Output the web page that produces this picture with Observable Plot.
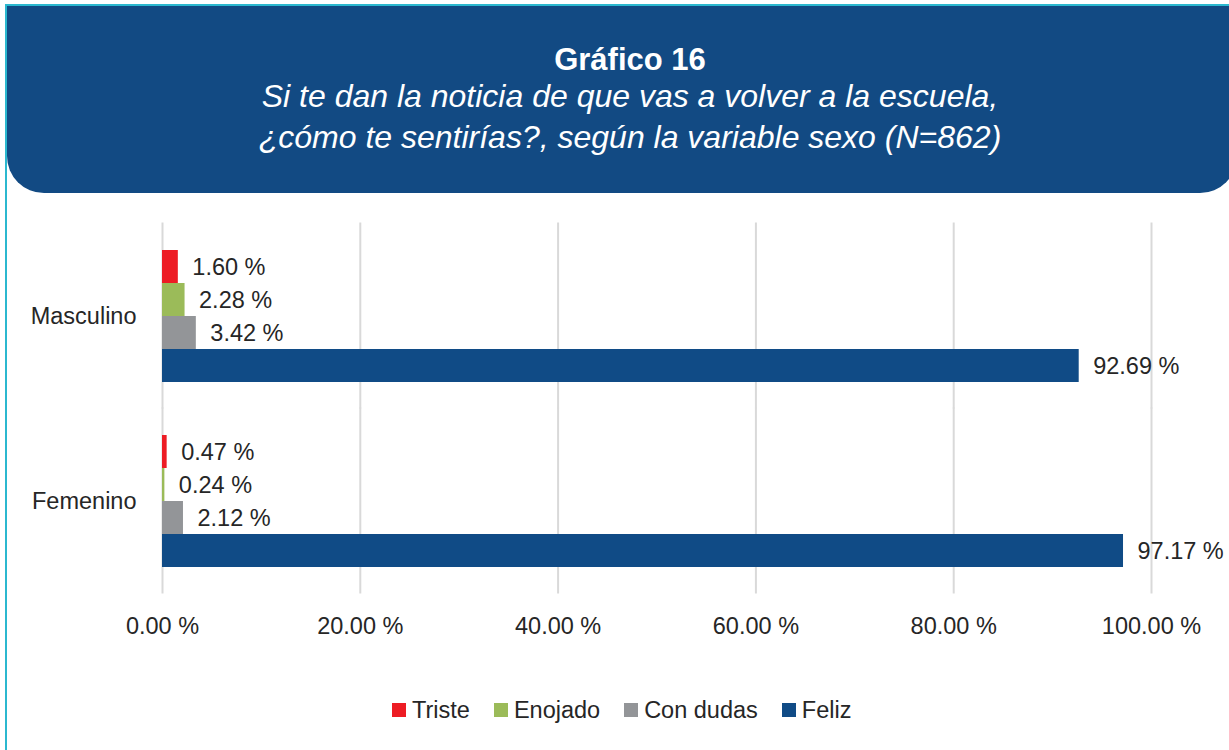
<!DOCTYPE html>
<html>
<head>
<meta charset="utf-8">
<script src="https://cdn.jsdelivr.net/npm/d3@7"></script>
<script src="https://cdn.jsdelivr.net/npm/@observablehq/plot@0.6"></script>
<style>
  html, body { margin: 0; padding: 0; background: #fff; }
  body { width: 1229px; height: 750px; position: relative; overflow: hidden; font-family: "Liberation Sans", Arial, sans-serif; }
  .frame-top { position: absolute; left: 5px; top: 4px; width: 1224px; height: 2px; background: #2bb8cf; }
  .frame-left { position: absolute; left: 5px; top: 4px; width: 2px; height: 746px; background: #2bb8cf; }
  .header { position: absolute; left: 7px; top: 6px; width: 1230px; height: 187px; background: #124a83; border-bottom-left-radius: 37px; border-bottom-right-radius: 37px; }
  .title { position: absolute; left: 0; width: 1260px; top: 42px; text-align: center; color: #fff; font-weight: bold; font-size: 31px; line-height: 36px; }
  .subtitle { position: absolute; left: 0; width: 1260px; top: 76px; text-align: center; color: #fff; font-style: italic; font-size: 32px; line-height: 41px; }
  #chart { position: absolute; left: 0; top: 200px; }
  .legend { position: absolute; left: 392px; top: 696px; display: flex; align-items: center; font-size: 23.5px; line-height: 28px; color: #262626; }
  .legend .item { display: flex; align-items: center; margin-right: 24px; }
  .legend .sw { width: 14px; height: 14px; margin-right: 6px; }
</style>
</head>
<body>
<div class="frame-top"></div>
<div class="frame-left"></div>
<div class="header"></div>
<div class="title">Gráfico 16</div>
<div class="subtitle">Si te dan la noticia de que vas a volver a la escuela,<br>¿cómo te sentirías?, según la variable sexo (N=862)</div>
<div id="chart"></div>
<div class="legend" id="legend"></div>
<script>
const sexos = ["Masculino", "Femenino"];
const emociones = ["Triste", "Enojado", "Con dudas", "Feliz"];
const colores = ["#ed1c24", "#9bbb59", "#939598", "#104b86"];
const valoresMasculino = [1.60, 2.28, 3.42, 92.69];
const valoresFemenino = [0.47, 0.24, 2.12, 97.17];
const xTicks = [0, 20, 40, 60, 80, 100];

const data = [];
emociones.forEach((e, i) => {
  data.push({sexo: "Masculino", emocion: e, value: valoresMasculino[i]});
  data.push({sexo: "Femenino", emocion: e, value: valoresFemenino[i]});
});
const fmt = d => d.toFixed(2) + " %";

const plot = Plot.plot({
  width: 1229,
  height: 460,
  marginTop: 23,
  marginBottom: 67,
  marginLeft: 162,
  marginRight: 78,
  style: {fontFamily: "'Liberation Sans', Arial, sans-serif", fontSize: "23.5px", color: "#262626", background: "transparent", overflow: "visible"},
  x: {domain: [0, 100], axis: null},
  y: {domain: emociones, padding: 0, axis: null},
  fy: {domain: sexos, paddingInner: 0.27, paddingOuter: 0.135, axis: "left", tickSize: 0, tickPadding: 26, label: null},
  color: {domain: emociones, range: colores},
  marks: [
    Plot.ruleX(xTicks, {x: d => d, stroke: "#d9d9d9", strokeWidth: 2, insetTop: -25.5, insetBottom: -25.5}),
    Plot.barX(data, {x: "value", y: "emocion", fy: "sexo", fill: "emocion"}),
    Plot.text(data, {x: "value", y: "emocion", fy: "sexo", text: d => fmt(d.value), textAnchor: "start", dx: 14, fill: "#262626", fontSize: 23.5}),
    Plot.axisX({ticks: xTicks, tickFormat: fmt, tickSize: 0, tickPadding: 49, label: null, fontSize: 23.5, fill: "#262626"})
  ]
});
document.getElementById("chart").appendChild(plot);

const legend = document.getElementById("legend");
emociones.forEach((e, i) => {
  const item = document.createElement("div");
  item.className = "item";
  const sw = document.createElement("div");
  sw.className = "sw";
  sw.style.background = colores[i];
  const label = document.createElement("span");
  label.textContent = e;
  item.appendChild(sw);
  item.appendChild(label);
  legend.appendChild(item);
});
</script>
</body>
</html>
